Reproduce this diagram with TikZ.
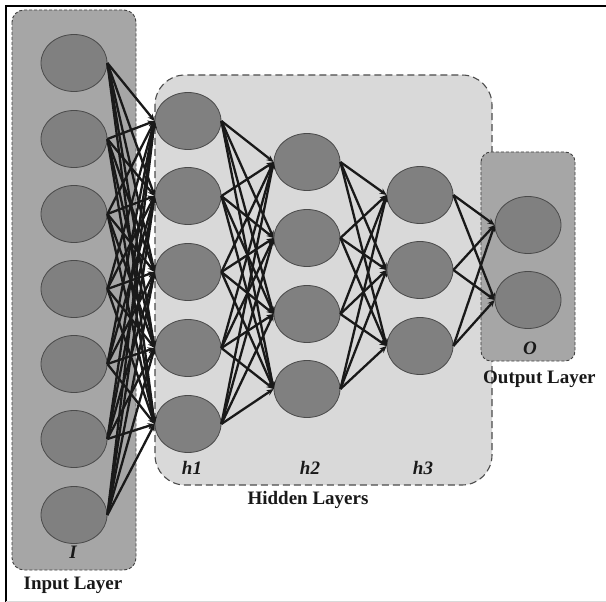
\documentclass[tikz,border=0pt]{standalone}
\usepackage{fontspec}
\setmainfont{Liberation Serif}
\usetikzlibrary{shapes.geometric,arrows.meta}
\definecolor{boxdark}{HTML}{A6A6A6}
\definecolor{boxlight}{HTML}{D9D9D9}
\definecolor{neuron}{HTML}{808080}
\definecolor{rim}{HTML}{4A4A4A}
\begin{document}
\begin{tikzpicture}[x=1pt,y=-1pt,
  neu/.style={ellipse,draw=rim,line width=0.8pt,fill=neuron,minimum width=66pt,minimum height=57pt,inner sep=0pt},
  layerbox/.style={draw=black!75,fill=boxdark,dash pattern=on 3pt off 2pt,line width=0.9pt},
  hidbox/.style={draw=black!70,fill=boxlight,dash pattern=on 7pt off 4pt,line width=1.1pt},
  conn/.style={line width=2.3pt,draw=black!90,-{Stealth[length=7pt,width=6pt]}},
  lbl/.style={font=\fontsize{19}{22}\selectfont\bfseries,inner sep=0pt,text=black!90},
  ilbl/.style={font=\fontsize{19}{22}\selectfont\bfseries\itshape,inner sep=0pt,text=black!90}]
\useasboundingbox (0,0) rectangle (606,602);
\fill[white] (0,0) rectangle (606,602);
\draw[line width=2.2pt] (6,602) -- (6,6) -- (606,6);
\draw[black!15,line width=0.6pt] (6,601) -- (606,601);
% boxes
\draw[layerbox,rounded corners=12pt] (12,10) rectangle (136,570);
\draw[hidbox,rounded corners=30pt] (155,75) rectangle (492,485);
\draw[layerbox,rounded corners=10pt] (481,152) rectangle (575,361);
% nodes
\foreach \i/\y in {1/63,2/139,3/214,4/289,5/364,6/439,7/515}
  \node[neu] (i\i) at (74,\y) {};
\foreach \i/\y in {1/121,2/196,3/272,4/348,5/424}
  \node[neu] (a\i) at (188,\y) {};
\foreach \i/\y in {1/162,2/238,3/314,4/389}
  \node[neu] (b\i) at (307,\y) {};
\foreach \i/\y in {1/195,2/270,3/346}
  \node[neu] (c\i) at (420,\y) {};
\foreach \i/\y in {1/225,2/300}
  \node[neu] (o\i) at (528,\y) {};
% connections
\foreach \s in {1,...,7}
  \foreach \t in {1,...,5}
    \draw[conn] (i\s.east) -- (a\t.west);
\foreach \s in {1,...,5}
  \foreach \t in {1,...,4}
    \draw[conn] (a\s.east) -- (b\t.west);
\foreach \s in {1,...,4}
  \foreach \t in {1,...,3}
    \draw[conn] (b\s.east) -- (c\t.west);
\foreach \s in {1,...,3}
  \foreach \t in {1,2}
    \draw[conn] (c\s.east) -- (o\t.west);
% labels
\node[ilbl] (lI) at (73,552) {I};
\node[lbl] (lIn) at (73,585) {Input Layer};
\node[ilbl] (lh1) at (192,468) {h1};
\node[ilbl] (lh2) at (310,468) {h2};
\node[ilbl] (lh3) at (423,468) {h3};
\node[lbl] (lHid) at (308,500) {Hidden Layers};
\node[ilbl] (lO) at (530,348) {O};
\node[lbl,anchor=west] (lOut) at (483,379) {Output Layer};
\end{tikzpicture}
\end{document}
